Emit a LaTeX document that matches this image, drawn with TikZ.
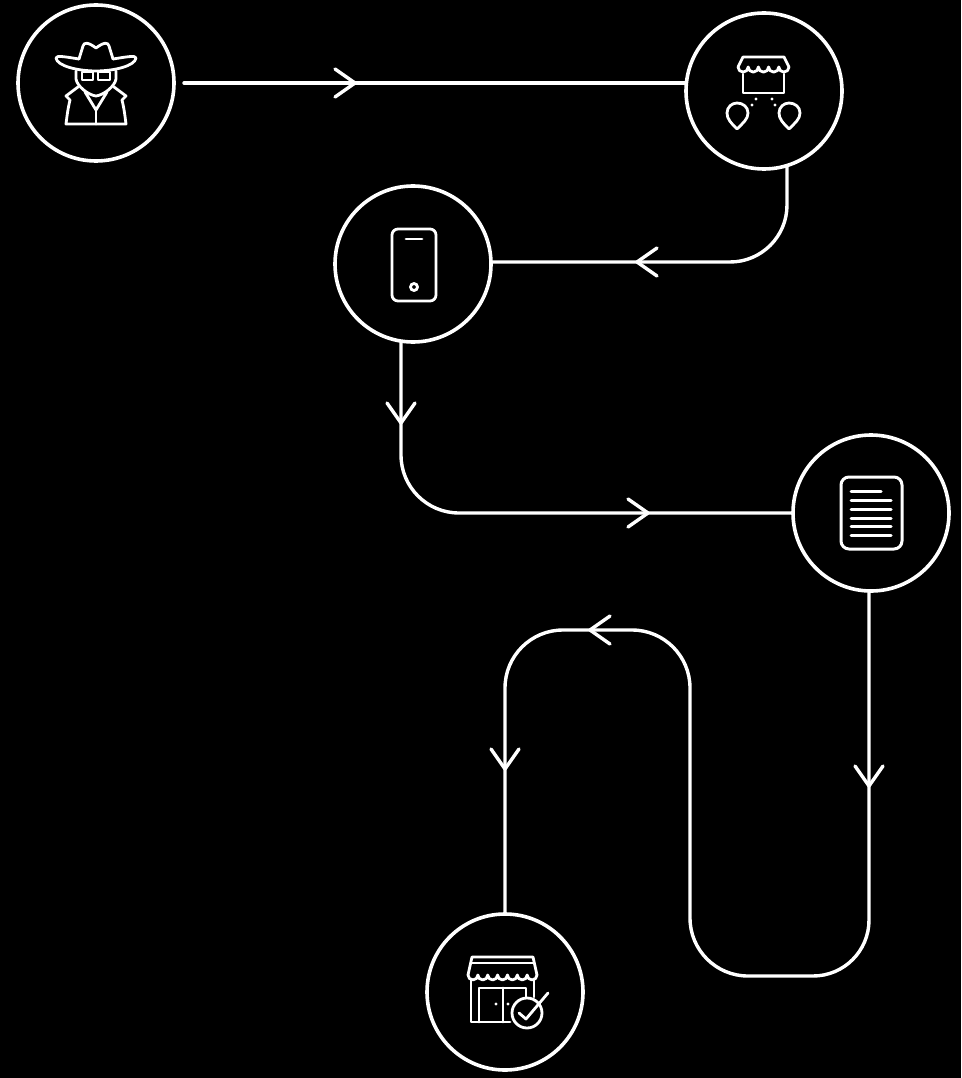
\documentclass[tikz,border=0pt]{standalone}
\usetikzlibrary{calc}
\tikzset{
  stepcircle/.style={circle,draw=white,line width=3.6pt,minimum size=156pt,inner sep=0pt,outer sep=0pt},
  flow/.style={draw=white,line width=3.4pt,line cap=round,line join=round},
  chevron/.style={draw=white,line width=3.4pt,line cap=round,line join=round},
  glyph/.style={draw=white,line width=2.8pt,line cap=round,line join=round},
}
\newcommand{\chev}[3]{\draw[chevron,shift={(#1,#2)},rotate=#3] (-20,-14) -- (0,0) -- (-20,14);}
\begin{document}
\begin{tikzpicture}[x=1pt,y=-1pt]
\fill[black] (0,0) rectangle (961,1078);
\useasboundingbox (0,0) rectangle (961,1078);
\node[stepcircle] (c1) at (96,83) {};
\node[stepcircle] (c2) at (764,91) {};
\node[stepcircle] (c3) at (413,264) {};
\node[stepcircle] (c4) at (871,513) {};
\node[stepcircle] (c5) at (505,992) {};
\coordinate (s1) at ($(c1.east)+(10,0)$);
\coordinate (s2) at (787,205);
\coordinate (s3) at (401,455);
\coordinate (s4) at (869,920);
% connectors
\draw[flow] (s1) -- (c2.west |- s1);
\draw[flow] (s2 |- c2.-73.4) -- (s2) arc[start angle=0,end angle=90,radius=57] -- (c3.east |- 0,262);
\draw[flow] (s3 |- c3.-98.4) -- (s3) arc[start angle=180,end angle=90,radius=58] -- (c4.west);
\draw[flow] (s4 |- c4.-91.5) -- (s4) arc[start angle=0,end angle=90,radius=56] -- (748,976)
  arc[start angle=90,end angle=180,radius=58] -- (690,688)
  arc[start angle=0,end angle=-90,radius=58] -- (563,630)
  arc[start angle=-90,end angle=-180,radius=58] -- (c5.north);
% arrowheads
\chev{355}{83}{0}
\chev{637}{262}{180}
\chev{401}{423}{-90}
\chev{648}{513}{0}
\chev{869}{786}{-90}
\chev{590}{630}{180}
\chev{505}{769}{-90}
% spy
\draw[glyph] (79,59) .. controls (66,57) and (56,55) .. (56,58) .. controls (57,66) and (78,71) .. (96,71) .. controls (114,71) and (135,66) .. (136,58) .. controls (136,55) and (126,57) .. (113,59);
\draw[glyph] (79,59) -- (83,46) .. controls (84,42) and (88,42) .. (96,48) .. controls (104,42) and (108,42) .. (109,46) -- (113,59);
\draw[glyph] (76,71) -- (76,79) .. controls (77,86) and (88,95) .. (96,96) .. controls (104,95) and (115,86) .. (116,79) -- (116,71);
\draw[glyph] (82,72) rectangle (93,80);
\draw[glyph] (98,72) rectangle (110,80);
\draw[glyph] (78,87) -- (66,96) -- (70,100) .. controls (68,108) and (67,116) .. (66,124) -- (126,124) .. controls (125,116) and (124,108) .. (122,100) -- (126,96) -- (114,87);
\draw[glyph] (85,92) -- (96,110) -- (107,92);
\draw[glyph] (96,110) -- (96,124);
% pin store
\draw[glyph] (738,67) -- (743,57) -- (784,57) -- (789,67);
\draw[glyph] (738,67) arc[start angle=180,end angle=0,radius=5.1] arc[start angle=180,end angle=0,radius=5.1] arc[start angle=180,end angle=0,radius=5.1] arc[start angle=180,end angle=0,radius=5.1] arc[start angle=180,end angle=0,radius=5.1];
\draw[glyph] (743,74) -- (743,93) -- (784,93) -- (784,74);
\fill[white] (756,99) circle[radius=1.7] (752,105) circle[radius=1.7] (772,99) circle[radius=1.7] (775,105) circle[radius=1.7];
\draw[glyph] (737,129) .. controls (731,123) and (727,119) .. (727,113) .. controls (727,107) and (732,103) .. (737,103) .. controls (743,103) and (748,107) .. (748,113) .. controls (748,119) and (743,123) .. (737,129) -- cycle;
\draw[glyph] (789,129) .. controls (783,123) and (779,119) .. (779,113) .. controls (779,107) and (784,103) .. (789,103) .. controls (795,103) and (800,107) .. (800,113) .. controls (800,119) and (795,123) .. (789,129) -- cycle;
% phone
\draw[glyph,rounded corners=6pt] (392,229) rectangle (436,301);
\draw[glyph] (406,239) -- (422,239);
\draw[glyph] (414,287) circle[radius=3.5];
% document
\draw[glyph,line width=3pt,rounded corners=8pt] (841,477) rectangle (902,549);
\draw[glyph,line width=3pt] (851,491) -- (881,491);
\draw[glyph,line width=3pt] (851,500) -- (891,500);
\draw[glyph,line width=3pt] (851,509) -- (891,509);
\draw[glyph,line width=3pt] (851,518) -- (891,518);
\draw[glyph,line width=3pt] (851,526) -- (891,526);
\draw[glyph,line width=3pt] (851,535) -- (891,535);
% verified store
\draw[glyph] (468,975) -- (472,957) -- (533,957) -- (537,975);
\draw[glyph] (472,963) -- (533,963);
\draw[glyph] (468,975) arc[start angle=180,end angle=0,radius=4.93] arc[start angle=180,end angle=0,radius=4.93] arc[start angle=180,end angle=0,radius=4.93] arc[start angle=180,end angle=0,radius=4.93] arc[start angle=180,end angle=0,radius=4.93] arc[start angle=180,end angle=0,radius=4.93] arc[start angle=180,end angle=0,radius=4.93];
\draw[glyph] (471,980) -- (471,1022) -- (510,1022);
\draw[glyph] (534,980) -- (534,997);
\draw[glyph] (479,1022) -- (479,988) -- (526,988) -- (526,997);
\draw[glyph] (503,988) -- (503,1022);
\fill[white] (496,1004) circle[radius=1.6] (508,1004) circle[radius=1.6];
\draw[glyph] (527,1013) circle[radius=15];
\draw[glyph] (519,1013) -- (526,1019) -- (548,993);
\end{tikzpicture}
\end{document}
